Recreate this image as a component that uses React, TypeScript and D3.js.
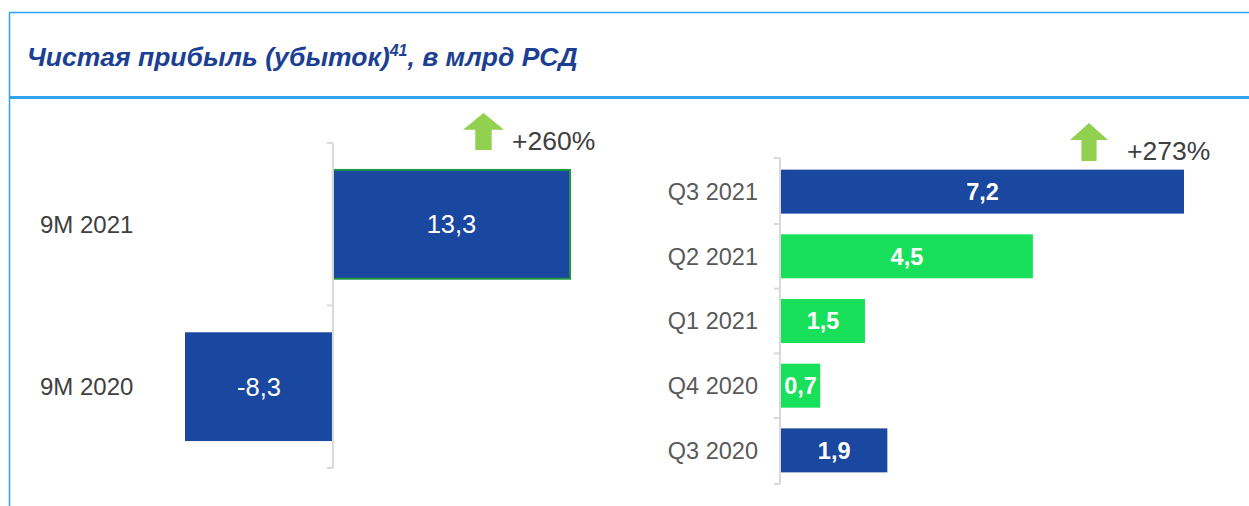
import React from 'react';
import * as d3 from 'd3';

// left chart: 9M totals
const periods = ['9M 2021', '9M 2020'];
const periodValues = [13.3, -8.3];
const periodLabels = ['13,3', '-8,3'];
const periodGrowth = '+260%';

// right chart: quarters
const quarters = ['Q3 2021', 'Q2 2021', 'Q1 2021', 'Q4 2020', 'Q3 2020'];
const quarterValues = [7.2, 4.5, 1.5, 0.7, 1.9];
const quarterLabels = ['7,2', '4,5', '1,5', '0,7', '1,9'];
const quarterHighlight = [true, false, false, false, true];
const quarterGrowth = '+273%';

const BLUE = '#1a47a0';
const GREEN = '#19e05b';
const ARROW = '#92d050';
const FRAME = '#2ea3f2';
const AXIS = '#d9d9d9';
const FONT = '"Liberation Sans", Arial, sans-serif';

const Arrow = ({ x, y, w, h }: { x: number; y: number; w: number; h: number }) => {
  const head = h * 0.45;
  const shaft = w * 0.4;
  const pts = [
    [x + w / 2, y],
    [x + w, y + head],
    [x + w / 2 + shaft / 2, y + head],
    [x + w / 2 + shaft / 2, y + h],
    [x + w / 2 - shaft / 2, y + h],
    [x + w / 2 - shaft / 2, y + head],
    [x, y + head],
  ];
  return <polygon points={pts.map((p) => p.join(',')).join(' ')} fill={ARROW} />;
};

// vertical axis with ticks at band edges
const BandAxis = ({ x, scale }: { x: number; scale: d3.ScaleBand<string> }) => {
  const [r0, r1] = scale.range();
  const step = scale.step();
  const gap = step * scale.paddingInner();
  const edges = [r0, ...scale.domain().slice(1).map((d) => (scale(d) as number) - gap / 2), r1];
  return (
    <g stroke={AXIS} strokeWidth={2} fill="none">
      <line x1={x} x2={x} y1={r0} y2={r1} />
      {edges.map((e, i) => (
        <line key={i} x1={x - 6} x2={x} y1={e} y2={e} />
      ))}
    </g>
  );
};

export default function App() {
  const W = 1249;
  const H = 506;

  const yL = d3.scaleBand<string>().domain(periods).range([143, 468]).paddingInner(0.33).paddingOuter(0.166);
  const xL = d3.scaleLinear().domain([-8.3, 13.3]).range([185, 570]);

  const yR = d3.scaleBand<string>().domain(quarters).range([158, 484]).paddingInner(0.32).paddingOuter(0.18);
  const xR = d3.scaleLinear().domain([0, 7.2]).range([781, 1184]);

  return (
    <svg width={W} height={H} style={{ position: 'fixed', left: 0, top: 0, background: '#fff' }} fontFamily={FONT}>
      {/* frame */}
      <line x1={9} x2={W} y1={12.5} y2={12.5} stroke={FRAME} strokeWidth={1.5} />
      <line x1={9.5} x2={9.5} y1={12} y2={H} stroke={FRAME} strokeWidth={1.5} />
      <line x1={9} x2={W} y1={97.5} y2={97.5} stroke={FRAME} strokeWidth={3} />

      <text x={27} y={66} fontSize={26.5} fontWeight="bold" fontStyle="italic" fill="#1c3f94">
        Чистая прибыль (убыток)
        <tspan fontSize={16} dy={-10}>41</tspan>
        <tspan dy={10}>, в млрд РСД</tspan>
      </text>

      {/* left chart */}
      {periods.map((p, i) => {
        const v = periodValues[i];
        const x0 = xL(Math.min(0, v));
        const x1 = xL(Math.max(0, v));
        const y = yL(p) as number;
        const bw = yL.bandwidth();
        return (
          <g key={p}>
            <rect
              x={x0}
              y={y}
              width={x1 - x0}
              height={bw}
              fill={BLUE}
              stroke={v > 0 ? '#1e9444' : 'none'}
              strokeWidth={2}
            />
            <text x={(x0 + x1) / 2} y={y + bw / 2} dy="0.35em" textAnchor="middle" fontSize={25.5} fill="#fff">
              {periodLabels[i]}
            </text>
            <text x={40} y={y + bw / 2} dy="0.35em" fontSize={24} fill="#404040">
              {p}
            </text>
          </g>
        );
      })}
      <BandAxis x={xL(0)} scale={yL} />
      <Arrow x={463} y={113} w={41} h={37} />
      <text x={512} y={150} fontSize={26.5} fill="#404040">{periodGrowth}</text>

      {/* right chart */}
      {quarters.map((q, i) => {
        const v = quarterValues[i];
        const y = yR(q) as number;
        const bw = yR.bandwidth();
        return (
          <g key={q}>
            <rect x={xR(0)} y={y} width={xR(v) - xR(0)} height={bw} fill={quarterHighlight[i] ? BLUE : GREEN} />
            <text
              x={(xR(0) + xR(v)) / 2}
              y={y + bw / 2}
              dy="0.35em"
              textAnchor="middle"
              fontSize={23.5}
              fontWeight="bold"
              fill="#fff"
            >
              {quarterLabels[i]}
            </text>
            <text x={758} y={y + bw / 2} dy="0.35em" textAnchor="end" fontSize={23.5} fill="#595959">
              {q}
            </text>
          </g>
        );
      })}
      <BandAxis x={xR(0) - 1} scale={yR} />
      <Arrow x={1070} y={123} w={38} h={38} />
      <text x={1127} y={160} fontSize={26.5} fill="#404040">{quarterGrowth}</text>
    </svg>
  );
}
